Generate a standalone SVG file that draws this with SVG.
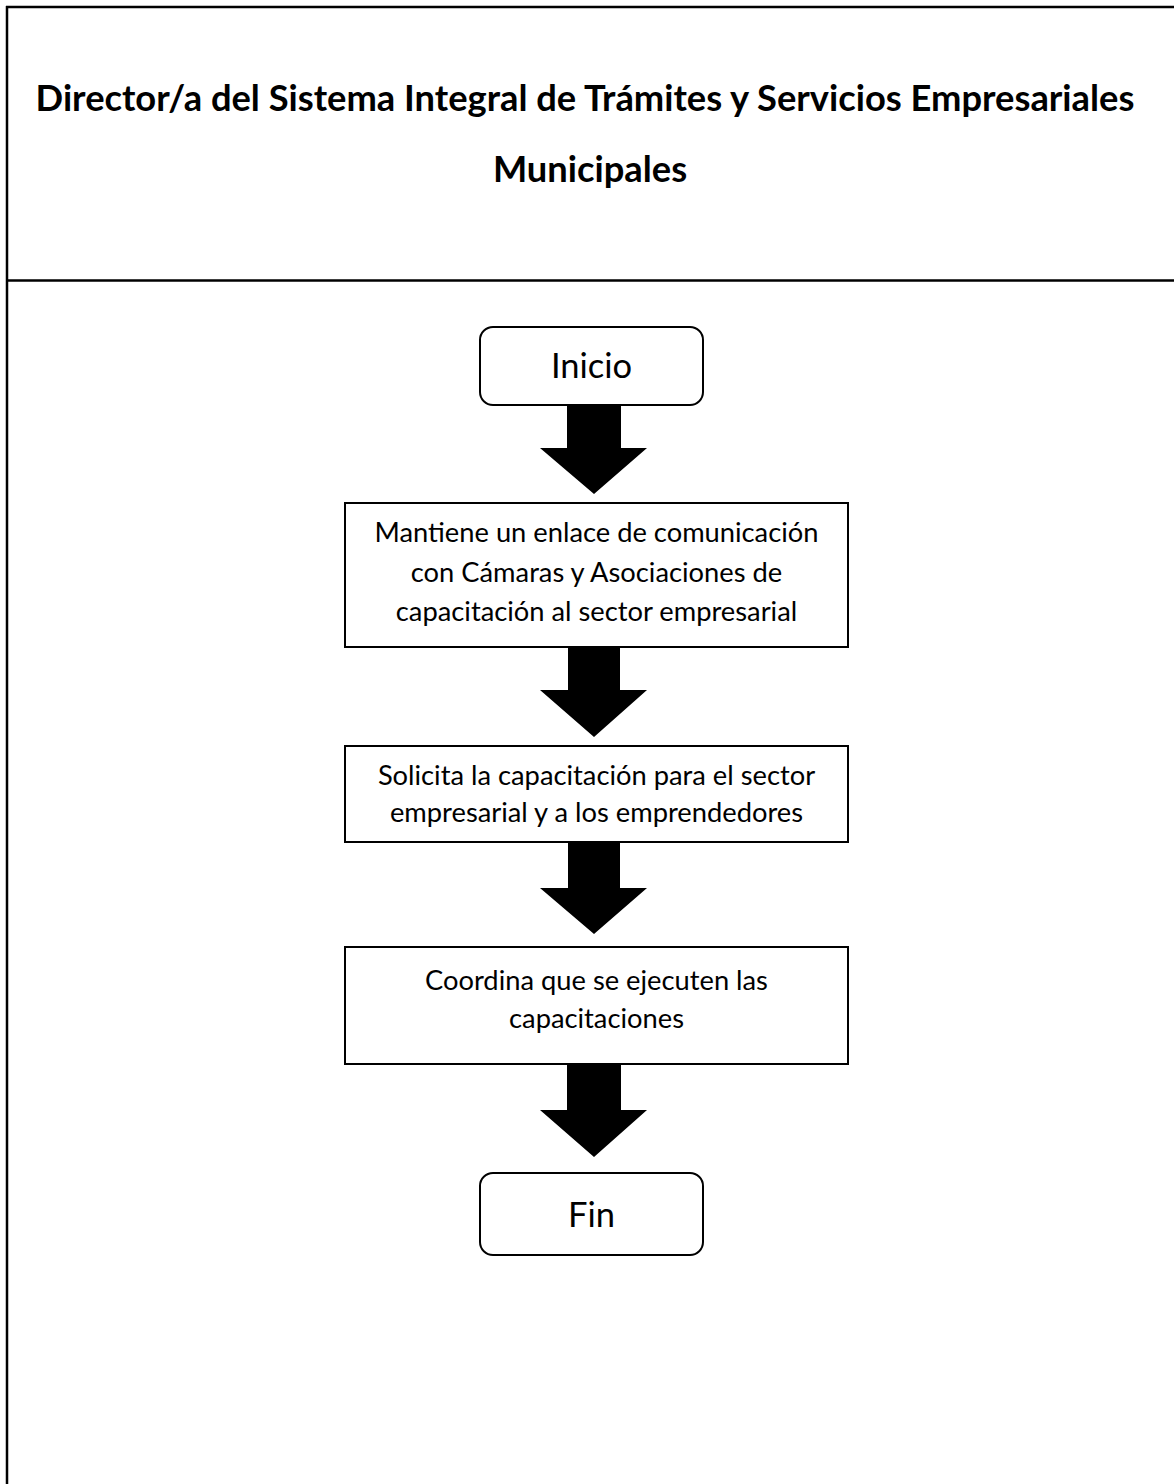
<svg xmlns="http://www.w3.org/2000/svg" width="1174" height="1484" viewBox="0 0 1174 1484">
<style>
.frame{stroke:#000;stroke-width:2.5;fill:none}
.box{fill:#fff;stroke:#000;stroke-width:2}
.t{font-family:Lato,"Liberation Sans",sans-serif;fill:#000;text-anchor:middle}
.title{font-size:36.3px;font-weight:bold}
.term{font-size:34.5px}
.body{font-size:27.3px}
.arrow{fill:#000}
</style>
<rect x="0" y="0" width="1174" height="1484" fill="#fff"/>
<g id="frame">
<line class="frame" x1="6" y1="7" x2="1174" y2="7"/>
<line class="frame" x1="7" y1="6" x2="7" y2="1484"/>
<line class="frame" x1="6" y1="280.5" x2="1174" y2="280.5"/>
</g>
<g id="title">
<text class="t title" x="585" y="111">Director/a del Sistema Integral de Trámites y Servicios Empresariales</text>
<text class="t title" x="590" y="182">Municipales</text>
</g>
<g id="connectors">
<polygon class="arrow" points="567,405 621,405 621,448 647,448 594,494 540,448 567,448"/>
<polygon class="arrow" points="568,647 620,647 620,690 647,690 594,737 540,690 568,690"/>
<polygon class="arrow" points="568,843 620,843 620,888 647,888 594,934 540,888 568,888"/>
<polygon class="arrow" points="567,1064 621,1064 621,1110 647,1110 594,1157 540,1110 567,1110"/>
</g>
<g id="inicio">
<rect class="box" x="480" y="327" width="223" height="78" rx="13"/>
<text class="t term" x="591.5" y="378">Inicio</text>
</g>
<g id="paso1">
<rect class="box" x="345" y="503" width="503" height="144"/>
<text class="t body" x="596.5" y="542">Mantiene un enlace de comunicación</text>
<text class="t body" x="596.5" y="582">con Cámaras y Asociaciones de</text>
<text class="t body" x="596.5" y="621">capacitación al sector empresarial</text>
</g>
<g id="paso2">
<rect class="box" x="345" y="746" width="503" height="96"/>
<text class="t body" x="596.5" y="785">Solicita la capacitación para el sector</text>
<text class="t body" x="596.5" y="822">empresarial y a los emprendedores</text>
</g>
<g id="paso3">
<rect class="box" x="345" y="947" width="503" height="117"/>
<text class="t body" x="596.5" y="990">Coordina que se ejecuten las</text>
<text class="t body" x="596.5" y="1028">capacitaciones</text>
</g>
<g id="fin">
<rect class="box" x="480" y="1173" width="223" height="82" rx="13"/>
<text class="t term" x="591.5" y="1227">Fin</text>
</g>
</svg>
